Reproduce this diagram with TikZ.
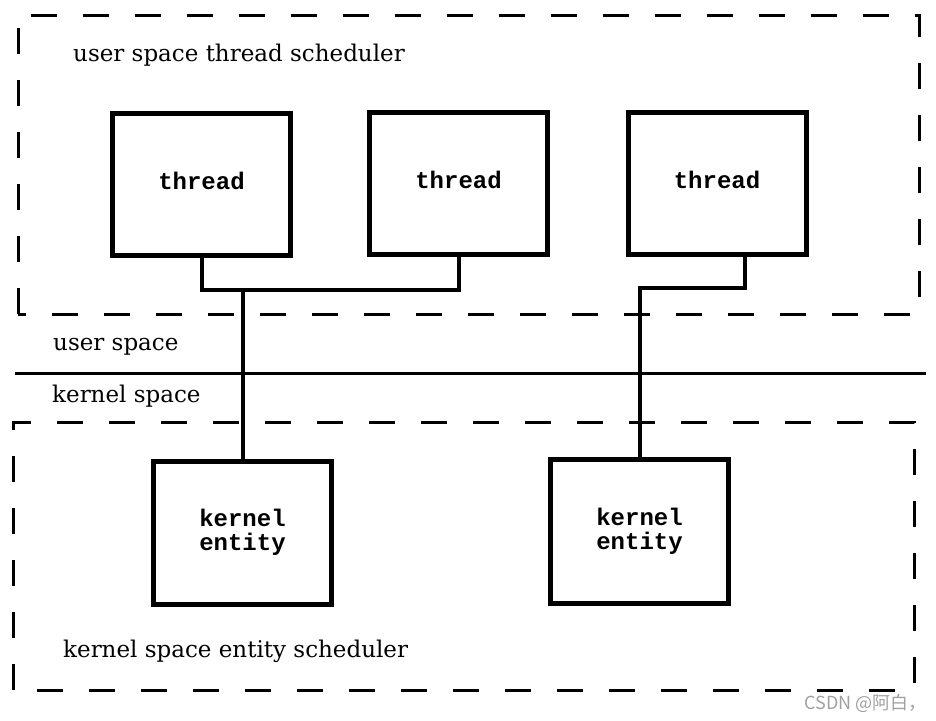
\documentclass[tikz,border=0pt]{standalone}
\usepackage{fontspec}
\setmainfont{DejaVu Serif}
\newfontfamily\monof{Liberation Mono}
\newfontfamily\cjk{Noto Sans CJK SC}
\definecolor{wm}{RGB}{160,160,160}
\newcommand{\upt}[1]{\raisebox{3pt}[\height][\depth]{#1}}
\begin{document}
\begin{tikzpicture}[x=1pt,y=-1pt,
  region/.style={draw, line width=3pt, dash pattern=on 26pt off 26pt},
  tbox/.style={draw, line width=5pt, minimum width=178pt, minimum height=142pt, inner sep=0pt,
    font=\monof\bfseries\fontsize{24}{24}\selectfont, align=center},
  conn/.style={draw, line width=4pt},
  lbl/.style={anchor=west, inner sep=0pt, font=\fontsize{23}{26}\selectfont}]
\useasboundingbox (0,0) rectangle (936,720);
% regions
\draw[region] (18,314) rectangle (919,15);
\draw[region] (13,690) rectangle (914,422);
\draw[line width=3pt] (15,373) -- (926,373);
% labels
\node[lbl] (l1) at (73,55) {user space thread scheduler};
\node[lbl] (l2) at (53,347) {user space};
\node[lbl] (l3) at (52,396) {kernel space};
\node[lbl] (l4) at (63,651) {kernel space entity scheduler};
% boxes
\node[tbox] (t1) at (201.5,184) {\upt{thread}};
\node[tbox] (t2) at (458.5,183) {\upt{thread}};
\node[tbox] (t3) at (717,183) {\upt{thread}};
\node[tbox, minimum height=143pt] (k1) at (242.5,532.5) {kernel\\entity};
\node[tbox, minimum height=144pt] (k2) at (639.5,531) {kernel\\entity};
% connectors
\coordinate (j1) at (242.5,290);
\coordinate (j2) at (639.5,288);
\draw[conn] (t1.south) |- (j1) -| (t2.south);
\draw[conn] (j1) -- (k1.north);
\draw[conn] ([xshift=28pt]t3.south) |- (j2) -- (k2.north);
% watermark
\node[anchor=east, inner sep=0pt, text=wm, font=\cjk\fontsize{18}{20}\selectfont] (wmk) at (927,703) {CSDN @阿白，};
\end{tikzpicture}
\end{document}
